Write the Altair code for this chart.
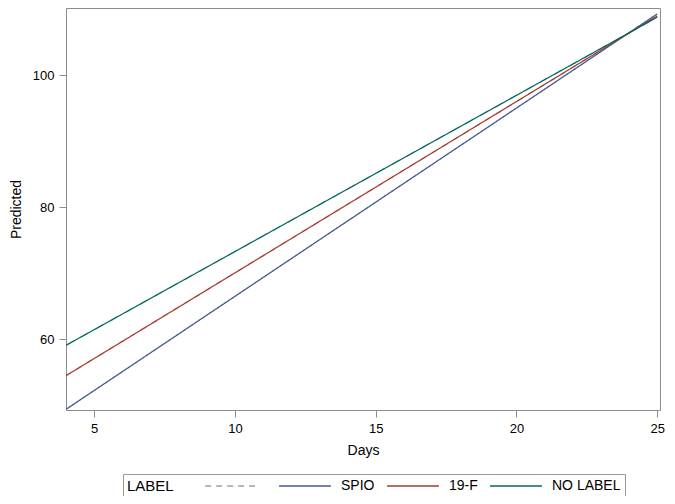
import altair as alt
import pandas as pd

labels = ["SPIO", "19-F", "NO LABEL"]
days = [4, 25]
spio = [49.4, 109.3]
f19 = [54.5, 109.0]
nolabel = [59.1, 108.8]

rows = []
for lab, vals in zip(labels, [spio, f19, nolabel]):
    for d, v in zip(days, vals):
        rows.append({"Days": d, "Predicted": v, "LABEL": lab})
df = pd.DataFrame(rows)

domain = [" ", "SPIO", "19-F", "NO LABEL"]
colors = ["#a0a0a0", "#445694", "#A23A2E", "#01665E"]
dashes = [[6, 5], [1, 0], [1, 0], [1, 0]]

font = "Liberation Sans"
legend = alt.Legend(
    title="LABEL", orient="none", direction="horizontal", legendX=57, legendY=466,
    titleOrient="left", titleFontSize=15, titleFontWeight="normal", titleFont=font,
    titleColor="#000", labelFont=font, labelFontSize=14, labelColor="#000",
    titlePadding=49,
    symbolType="M-3.7,0H3.7", symbolSize=196, symbolStrokeWidth=1.5,
    strokeColor="#999", padding=4, columnPadding=9, labelOffset=28,
)

chart = alt.Chart(df).mark_line(strokeWidth=1.3, clip=True).encode(
    x=alt.X("Days:Q", scale=alt.Scale(domain=[4, 25.1], nice=False, zero=False),
            axis=alt.Axis(values=[5, 10, 15, 20, 25], title="Days")),
    y=alt.Y("Predicted:Q", scale=alt.Scale(domain=[49.3, 110.2], nice=False, zero=False),
            axis=alt.Axis(values=[60, 80, 100], title="Predicted")),
    color=alt.Color("LABEL:N", scale=alt.Scale(domain=domain, range=colors), legend=legend),
    strokeDash=alt.StrokeDash("LABEL:N", scale=alt.Scale(domain=domain, range=dashes), legend=legend),
).properties(
    width=594, height=402,
    autosize=alt.AutoSizeParams(type="none"),
    padding={"left": 58, "top": 0, "right": 7, "bottom": 86},
).configure_view(
    stroke="#8c8c8c", strokeWidth=1
).configure_axis(
    grid=False, domain=False, tickColor="#8c8c8c", tickSize=7,
    labelFont=font, labelFontSize=13, labelColor="#000", labelPadding=5,
    titleFont=font, titleFontSize=14, titleFontWeight="normal", titleColor="#000",
).configure_axisX(titlePadding=8).configure_axisY(titlePadding=9)

chart.save("out.html", embed_options={"renderer": "svg", "actions": False})
